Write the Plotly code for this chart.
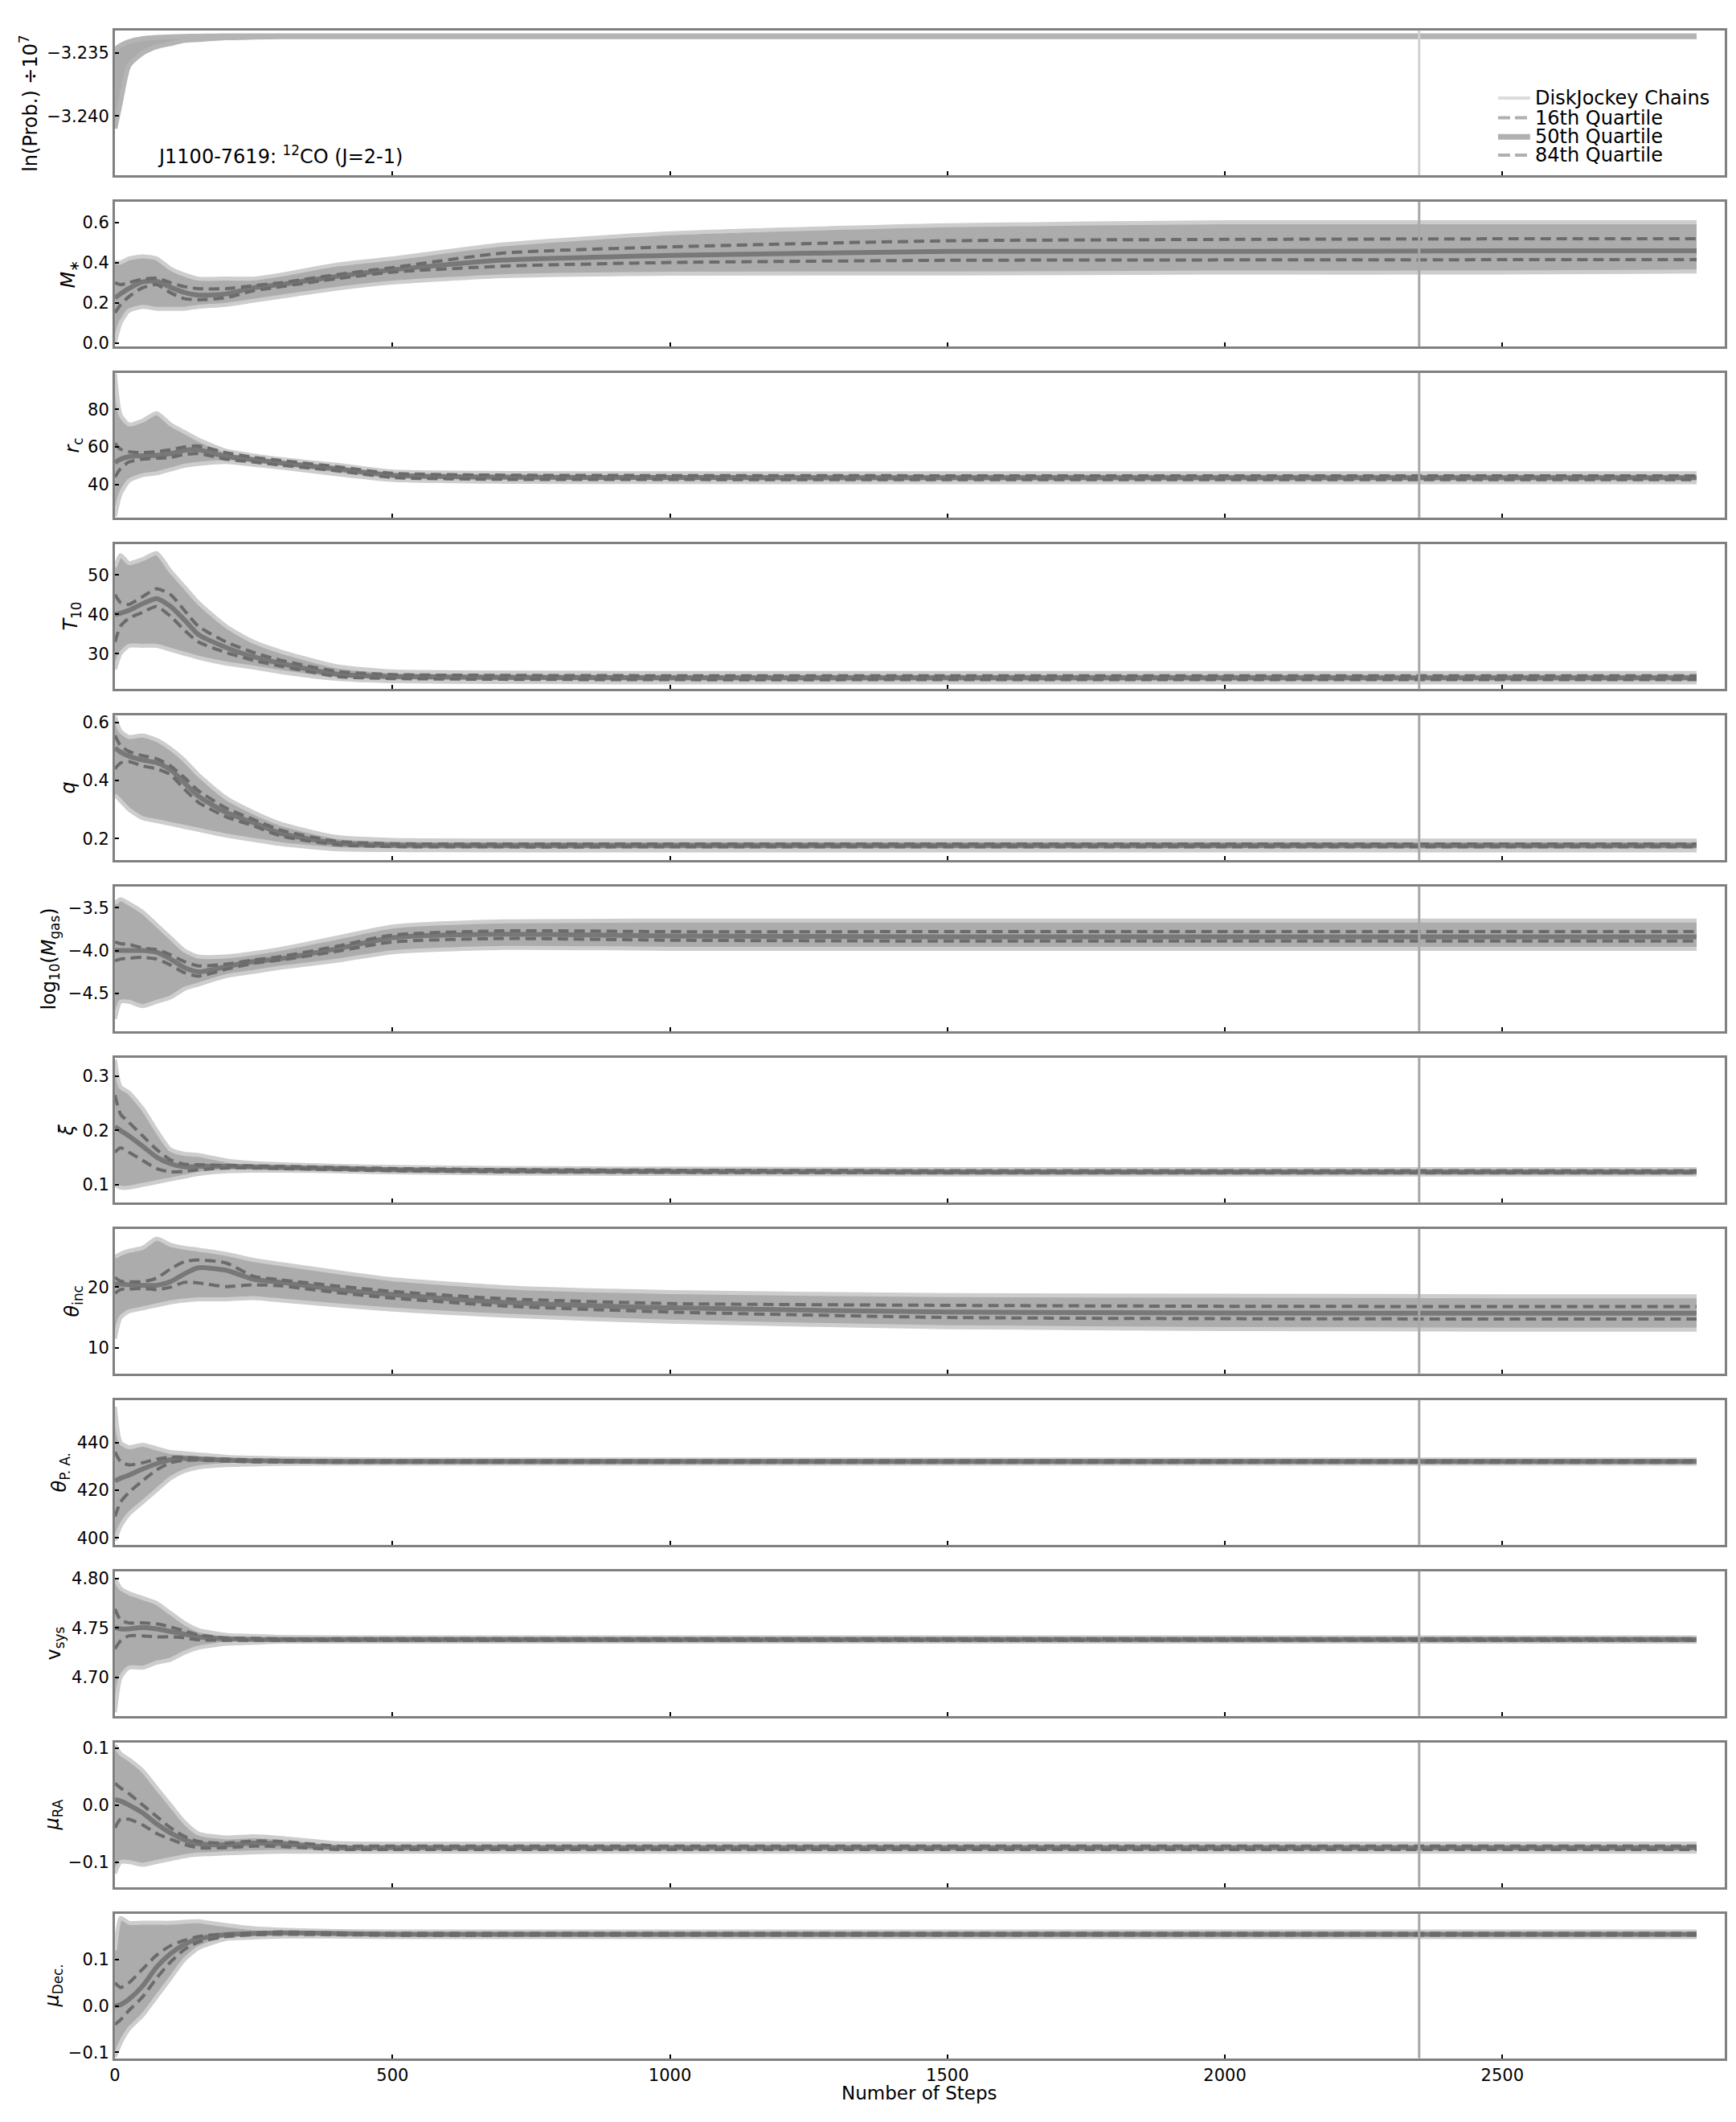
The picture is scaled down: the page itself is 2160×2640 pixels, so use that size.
import plotly.graph_objects as go

W, H = 2160, 2640
FONT = "DejaVu Sans"

# ---------------- data ----------------
STEPS = [0, 10, 25, 50, 75, 100, 125, 150, 200, 250, 300, 400, 500, 700, 1000, 1500, 2000, 2500, 2850]
X_TICKS = [0, 500, 1000, 1500, 2000, 2500]
BURN_STEP = 2350

# ln(Prob.)/1e7 : chain envelope only
lnp_hi = [-3.2347, -3.2344, -3.2341, -3.23385, -3.23375, -3.2337, -3.23367, -3.23365, -3.23363, -3.23362,
          -3.23362, -3.23362, -3.23362, -3.23362, -3.23362, -3.23362, -3.23362, -3.23362, -3.23362]
lnp_lo = [-3.2410, -3.2389, -3.2360, -3.2350, -3.2345, -3.23425, -3.2340, -3.23393, -3.23379, -3.23374,
          -3.2337, -3.2337, -3.2337, -3.2337, -3.2337, -3.2337, -3.2337, -3.2337, -3.2337]

mstar_hi = [0.40, 0.40, 0.42, 0.43, 0.42, 0.37, 0.34, 0.32, 0.32, 0.32, 0.34, 0.39, 0.42, 0.49, 0.545, 0.585, 0.60, 0.60, 0.60]
mstar_q84 = [0.30, 0.29, 0.30, 0.318, 0.322, 0.30, 0.28, 0.27, 0.27, 0.285, 0.30, 0.34, 0.375, 0.447, 0.478, 0.508, 0.515, 0.518, 0.518]
mstar_q50 = [0.224, 0.244, 0.271, 0.304, 0.307, 0.277, 0.251, 0.238, 0.244, 0.275, 0.291, 0.331, 0.364, 0.412, 0.435, 0.455, 0.455, 0.458, 0.458]
mstar_q16 = [0.15, 0.19, 0.23, 0.275, 0.29, 0.25, 0.22, 0.215, 0.225, 0.26, 0.28, 0.32, 0.352, 0.382, 0.40, 0.411, 0.413, 0.414, 0.414]
mstar_lo = [0.0, 0.10, 0.16, 0.18, 0.17, 0.17, 0.17, 0.18, 0.19, 0.21, 0.23, 0.27, 0.30, 0.332, 0.344, 0.345, 0.35, 0.35, 0.355]

rc_hi = [99.0, 77.0, 72.0, 74.0, 78.0, 72.0, 68.0, 64.0, 58.0, 55.5, 53.5, 50.5, 47.0, 46.2, 46.0, 46.0, 46.0, 46.0, 46.0]
rc_q84 = [62.0, 58.8, 57.5, 57.0, 57.5, 58.5, 60.0, 60.5, 57.0, 54.5, 52.8, 49.5, 46.0, 45.0, 44.8, 44.7, 44.7, 44.7, 44.7]
rc_q50 = [51.7, 53.5, 54.8, 55.3, 55.5, 56.5, 58.2, 58.5, 55.0, 53.3, 51.5, 48.4, 45.0, 44.0, 43.8, 43.7, 43.7, 43.7, 43.7]
rc_q16 = [44.0, 48.5, 52.0, 53.5, 54.0, 54.5, 56.0, 56.5, 53.5, 52.0, 50.3, 47.3, 43.8, 42.8, 42.7, 42.6, 42.6, 42.6, 42.6]
rc_lo = [23.0, 35.0, 42.0, 45.0, 46.0, 48.0, 50.0, 51.0, 52.0, 50.5, 49.0, 45.5, 42.5, 41.5, 41.3, 41.2, 41.2, 41.2, 41.2]

t10_hi = [52.0, 55.0, 53.0, 54.0, 55.5, 51.0, 47.0, 43.0, 37.0, 33.0, 30.5, 26.8, 25.5, 25.2, 25.1, 25.1, 25.1, 25.1, 25.1]
t10_q84 = [45.0, 43.0, 42.5, 44.5, 46.5, 45.0, 41.0, 37.0, 33.0, 30.3, 28.3, 25.5, 24.7, 24.5, 24.4, 24.4, 24.4, 24.4, 24.4]
t10_q50 = [40.0, 40.3, 41.0, 42.7, 44.0, 42.0, 38.6, 34.9, 31.6, 29.2, 27.5, 24.8, 24.2, 24.0, 23.9, 23.9, 23.9, 23.9, 23.9]
t10_q16 = [33.0, 37.0, 39.0, 40.5, 42.0, 39.5, 36.0, 33.0, 30.3, 28.3, 26.8, 24.2, 23.7, 23.5, 23.4, 23.4, 23.4, 23.4, 23.4]
t10_lo = [26.0, 30.0, 32.0, 32.0, 32.0, 31.0, 30.0, 29.0, 27.5, 26.5, 25.3, 23.6, 23.0, 22.8, 22.7, 22.7, 22.7, 22.7, 22.7]

q_hi = [0.62, 0.57, 0.55, 0.555, 0.54, 0.51, 0.47, 0.42, 0.34, 0.29, 0.25, 0.205, 0.195, 0.193, 0.193, 0.193, 0.193, 0.193, 0.193]
q_q84 = [0.555, 0.52, 0.50, 0.485, 0.475, 0.45, 0.41, 0.365, 0.305, 0.265, 0.228, 0.19, 0.182, 0.181, 0.181, 0.181, 0.181, 0.181, 0.181]
q_q50 = [0.512, 0.498, 0.484, 0.47, 0.461, 0.438, 0.392, 0.346, 0.29, 0.254, 0.217, 0.184, 0.177, 0.176, 0.176, 0.176, 0.176, 0.176, 0.176]
q_q16 = [0.44, 0.46, 0.465, 0.45, 0.44, 0.42, 0.37, 0.325, 0.275, 0.243, 0.208, 0.178, 0.172, 0.171, 0.171, 0.171, 0.171, 0.171, 0.171]
q_lo = [0.35, 0.33, 0.30, 0.27, 0.26, 0.25, 0.24, 0.23, 0.21, 0.195, 0.18, 0.163, 0.16, 0.159, 0.159, 0.159, 0.159, 0.159, 0.159]

mgas_hi = [-3.45, -3.4, -3.45, -3.55, -3.7, -3.85, -4.0, -4.07, -4.07, -4.03, -3.98, -3.85, -3.72, -3.66, -3.65, -3.65, -3.65, -3.65, -3.65]
mgas_q84 = [-3.9, -3.92, -3.93, -3.97, -3.99, -4.05, -4.13, -4.18, -4.16, -4.11, -4.07, -3.95, -3.82, -3.77, -3.78, -3.78, -3.78, -3.78, -3.78]
mgas_q50 = [-4.0, -4.0, -4.0, -4.0, -4.02, -4.10, -4.2, -4.25, -4.19, -4.13, -4.095, -3.98, -3.85, -3.81, -3.83, -3.84, -3.84, -3.84, -3.84]
mgas_q16 = [-4.12, -4.1, -4.09, -4.08, -4.1, -4.17, -4.26, -4.3, -4.22, -4.15, -4.11, -4.01, -3.9, -3.86, -3.88, -3.89, -3.89, -3.89, -3.89]
mgas_lo = [-4.8, -4.6, -4.6, -4.65, -4.6, -4.55, -4.45, -4.4, -4.3, -4.25, -4.2, -4.12, -4.02, -3.97, -3.98, -3.98, -3.98, -3.98, -3.98]

xi_hi = [0.33, 0.28, 0.27, 0.24, 0.2, 0.165, 0.157, 0.155, 0.145, 0.14, 0.138, 0.135, 0.133, 0.131, 0.13, 0.129, 0.129, 0.129, 0.129]
xi_q84 = [0.265, 0.23, 0.215, 0.19, 0.165, 0.146, 0.138, 0.137, 0.136, 0.135, 0.134, 0.132, 0.130, 0.128, 0.127, 0.126, 0.126, 0.126, 0.126]
xi_q50 = [0.207, 0.2, 0.19, 0.171, 0.151, 0.139, 0.133, 0.134, 0.134, 0.133, 0.132, 0.130, 0.128, 0.126, 0.125, 0.124, 0.124, 0.124, 0.124]
xi_q16 = [0.16, 0.168, 0.16, 0.145, 0.13, 0.124, 0.125, 0.128, 0.131, 0.131, 0.130, 0.128, 0.126, 0.124, 0.123, 0.122, 0.122, 0.122, 0.122]
xi_lo = [0.1, 0.095, 0.095, 0.1, 0.105, 0.11, 0.115, 0.12, 0.125, 0.126, 0.126, 0.125, 0.123, 0.121, 0.12, 0.119, 0.119, 0.119, 0.119]

inc_hi = [25.0, 25.5, 26.0, 26.5, 28.0, 27.0, 26.5, 26.2, 25.5, 24.5, 23.8, 22.5, 21.3, 20.0, 19.2, 18.7, 18.6, 18.5, 18.5]
inc_q84 = [21.6, 21.0, 20.9, 20.9, 21.5, 23.0, 24.2, 24.5, 24.0, 21.8, 21.2, 20.2, 19.3, 18.1, 17.3, 17.0, 16.85, 16.8, 16.8]
inc_q50 = [20.5, 20.5, 20.4, 20.3, 20.3, 20.9, 22.2, 23.2, 22.8, 21.3, 20.8, 19.6, 18.8, 17.5, 16.6, 15.9, 15.75, 15.7, 15.7]
inc_q16 = [19.0, 19.6, 19.7, 19.8, 19.6, 20.0, 20.8, 20.7, 20.1, 20.4, 20.2, 19.1, 18.2, 16.9, 15.9, 15.0, 14.8, 14.75, 14.75]
inc_lo = [11.5, 15.0, 16.0, 16.5, 17.0, 17.5, 17.8, 18.0, 18.0, 18.2, 17.8, 17.0, 16.3, 15.3, 14.3, 13.4, 13.1, 13.0, 13.0]

pa_hi = [455.0, 440.0, 438.0, 439.0, 437.5, 436.0, 435.5, 435.0, 434.0, 433.6, 433.3, 433.0, 432.9, 432.9, 432.9, 432.9, 432.9, 432.9, 432.9]
pa_q84 = [436.0, 432.0, 430.6, 431.5, 433.0, 433.8, 433.8, 433.5, 433.0, 432.7, 432.5, 432.3, 432.3, 432.3, 432.3, 432.3, 432.3, 432.3, 432.3]
pa_q50 = [423.9, 425.0, 426.3, 428.9, 431.1, 432.8, 433.3, 433.1, 432.6, 432.3, 432.2, 432.0, 432.0, 432.0, 432.0, 432.0, 432.0, 432.0, 432.0]
pa_q16 = [409.0, 415.0, 419.0, 424.0, 428.5, 431.5, 432.5, 432.6, 432.2, 431.9, 431.8, 431.7, 431.7, 431.7, 431.7, 431.7, 431.7, 431.7, 431.7]
pa_lo = [399.0, 405.0, 410.0, 415.0, 420.0, 425.0, 428.0, 429.5, 430.5, 430.8, 431.0, 431.1, 431.1, 431.1, 431.1, 431.1, 431.1, 431.1, 431.1]

vsys_hi = [4.80, 4.79, 4.785, 4.78, 4.775, 4.765, 4.755, 4.748, 4.743, 4.742, 4.741, 4.7405, 4.7405, 4.7405, 4.7405, 4.7405, 4.7405, 4.7405, 4.7405]
vsys_q84 = [4.769, 4.758, 4.755, 4.755, 4.754, 4.751, 4.747, 4.743, 4.740, 4.7395, 4.739, 4.739, 4.739, 4.739, 4.739, 4.739, 4.739, 4.739, 4.739]
vsys_q50 = [4.7504, 4.749, 4.749, 4.7504, 4.749, 4.7464, 4.7437, 4.741, 4.7391, 4.7385, 4.7383, 4.7383, 4.7383, 4.7383, 4.7383, 4.7383, 4.7383, 4.7383, 4.7383]
vsys_q16 = [4.729, 4.737, 4.742, 4.742, 4.741, 4.741, 4.740, 4.738, 4.7375, 4.7375, 4.7375, 4.7375, 4.7375, 4.7375, 4.7375, 4.7375, 4.7375, 4.7375, 4.7375]
vsys_lo = [4.665, 4.70, 4.71, 4.71, 4.715, 4.718, 4.725, 4.73, 4.734, 4.735, 4.736, 4.736, 4.736, 4.736, 4.736, 4.736, 4.736, 4.736, 4.736]

mura_hi = [0.105, 0.09, 0.08, 0.06, 0.03, 0.0, -0.03, -0.05, -0.057, -0.055, -0.058, -0.067, -0.068, -0.068, -0.068, -0.068, -0.068, -0.068, -0.068]
mura_q84 = [0.038, 0.03, 0.02, 0.0, -0.02, -0.04, -0.055, -0.064, -0.067, -0.063, -0.064, -0.072, -0.072, -0.072, -0.072, -0.072, -0.072, -0.072, -0.072]
mura_q50 = [0.0094, 0.007, 0.0, -0.014, -0.033, -0.049, -0.061, -0.068, -0.070, -0.067, -0.068, -0.075, -0.075, -0.075, -0.075, -0.075, -0.075, -0.075, -0.075]
mura_q16 = [-0.04, -0.025, -0.025, -0.035, -0.05, -0.06, -0.069, -0.075, -0.075, -0.072, -0.073, -0.078, -0.078, -0.078, -0.078, -0.078, -0.078, -0.078, -0.078]
mura_lo = [-0.12, -0.10, -0.10, -0.105, -0.1, -0.095, -0.09, -0.087, -0.085, -0.083, -0.082, -0.082, -0.082, -0.082, -0.082, -0.082, -0.082, -0.082, -0.082]

mudec_hi = [0.12, 0.19, 0.18, 0.18, 0.18, 0.18, 0.182, 0.183, 0.175, 0.168, 0.165, 0.162, 0.161, 0.161, 0.161, 0.161, 0.161, 0.161, 0.161]
mudec_q84 = [0.05, 0.04, 0.05, 0.08, 0.11, 0.13, 0.142, 0.15, 0.156, 0.158, 0.16, 0.158, 0.157, 0.157, 0.157, 0.157, 0.157, 0.157, 0.157]
mudec_q50 = [0.0, 0.003, 0.0145, 0.0435, 0.084, 0.113, 0.133, 0.145, 0.154, 0.1565, 0.158, 0.1565, 0.155, 0.155, 0.155, 0.155, 0.155, 0.155, 0.155]
mudec_q16 = [-0.04, -0.03, -0.01, 0.02, 0.06, 0.095, 0.122, 0.138, 0.15, 0.154, 0.155, 0.154, 0.153, 0.153, 0.153, 0.153, 0.153, 0.153, 0.153]
mudec_lo = [-0.11, -0.08, -0.05, -0.02, 0.02, 0.06, 0.1, 0.125, 0.145, 0.148, 0.15, 0.15, 0.149, 0.149, 0.149, 0.149, 0.149, 0.149, 0.149]

Y_LABELS = [
    "ln(Prob.) ÷10<sup>7</sup>",
    "<i>M</i><sub>∗</sub>",
    "<i>r</i><sub>c</sub>",
    "<i>T</i><sub>10</sub>",
    "<i>q</i>",
    "log<sub>10</sub>(<i>M</i><sub>gas</sub>)",
    "<i>ξ</i>",
    "<i>θ</i><sub>inc</sub>",
    "<i>θ</i><sub>P. A.</sub>",
    "v<sub>sys</sub>",
    "<i>μ</i><sub>RA</sub>",
    "<i>μ</i><sub>Dec.</sub>",
]
Y_TICKS = [
    [-3.240, -3.235], [0.0, 0.2, 0.4, 0.6], [40, 60, 80], [30, 40, 50], [0.2, 0.4, 0.6],
    [-4.5, -4.0, -3.5], [0.1, 0.2, 0.3], [10, 20], [400, 420, 440], [4.70, 4.75, 4.80],
    [-0.1, 0.0, 0.1], [-0.1, 0.0, 0.1],
]
Y_FORMATS = [".3f", ".1f", "d", "d", ".1f", ".1f", ".1f", "d", "d", ".2f", ".1f", ".1f"]
Y_RANGES = [
    [-3.2447, -3.2332], [-0.017, 0.703], [22.5, 99.4], [21.1, 57.85], [0.126, 0.625],
    [-4.943, -3.25], [0.068, 0.334], [5.75, 29.65], [397.2, 457.8], [4.6614, 4.8072],
    [-0.144, 0.110], [-0.113, 0.200],
]

LEGEND_LABELS = ["DiskJockey Chains", "16th Quartile", "50th Quartile", "84th Quartile"]
TITLE_TEXT = "J1100-7619: <sup>12</sup>CO (J=2-1)"
X_LABEL = "Number of Steps"

# table built from the arrays above
SERIES = [
    (lnp_lo, lnp_hi, None, None, None),
    (mstar_lo, mstar_hi, mstar_q16, mstar_q50, mstar_q84),
    (rc_lo, rc_hi, rc_q16, rc_q50, rc_q84),
    (t10_lo, t10_hi, t10_q16, t10_q50, t10_q84),
    (q_lo, q_hi, q_q16, q_q50, q_q84),
    (mgas_lo, mgas_hi, mgas_q16, mgas_q50, mgas_q84),
    (xi_lo, xi_hi, xi_q16, xi_q50, xi_q84),
    (inc_lo, inc_hi, inc_q16, inc_q50, inc_q84),
    (pa_lo, pa_hi, pa_q16, pa_q50, pa_q84),
    (vsys_lo, vsys_hi, vsys_q16, vsys_q50, vsys_q84),
    (mura_lo, mura_hi, mura_q16, mura_q50, mura_q84),
    (mudec_lo, mudec_hi, mudec_q16, mudec_q50, mudec_q84),
]

# ---------------- layout geometry (pixels) ----------------
PLOT_L, PLOT_R = 136.5, 2145.5
TOP0, PITCH, PANEL_H = 33.0, 214.03, 181.0
TITLE_X = [29, 80, 85, 83, 78, 56, 76, 85, 69, 62, 60, 60]

BAND_FILL = "#acacac"
BAND_EDGE = "#cdcdcd"
MED_COLOR = "#787878"
DASH_COLOR = "#6b6b6b"
FRAME = "#808080"
TICK_SIZE = 21

fig = go.Figure()
layout = dict(
    width=W, height=H, margin=dict(l=0, r=0, t=0, b=0),
    paper_bgcolor="white", plot_bgcolor="white", showlegend=False,
    font=dict(family=FONT, size=TICK_SIZE, color="black"),
)
shapes, annotations = [], []

for i, (lo, hi, q16, q50, q84) in enumerate(SERIES):
    n = i + 1
    sfx = "" if n == 1 else str(n)
    xa, ya = "x" + sfx, "y" + sfx
    top = TOP0 + PITCH * i
    bot = top + PANEL_H
    first = (i == 0)
    edge_w = 6 if first else 5
    fill_c = "#ababab" if first else BAND_FILL
    edge_c = "#b4b4b4" if first else BAND_EDGE
    fig.add_trace(go.Scatter(x=STEPS, y=hi, xaxis=xa, yaxis=ya, mode="lines",
                             line=dict(color=edge_c, width=edge_w, shape="spline", smoothing=0.6),
                             hoverinfo="skip", name=LEGEND_LABELS[0]))
    fig.add_trace(go.Scatter(x=STEPS, y=lo, xaxis=xa, yaxis=ya, mode="lines", fill="tonexty",
                             fillcolor=fill_c,
                             line=dict(color=edge_c, width=edge_w, shape="spline", smoothing=0.6),
                             hoverinfo="skip", name=LEGEND_LABELS[0]))
    if q50 is not None:
        fig.add_trace(go.Scatter(x=STEPS, y=q50, xaxis=xa, yaxis=ya, mode="lines",
                                 line=dict(color=MED_COLOR, width=6, shape="spline", smoothing=0.6),
                                 name=LEGEND_LABELS[2]))
        for qq, nm in ((q16, LEGEND_LABELS[1]), (q84, LEGEND_LABELS[3])):
            fig.add_trace(go.Scatter(x=STEPS, y=qq, xaxis=xa, yaxis=ya, mode="lines",
                                     line=dict(color=DASH_COLOR, width=4, dash="13px,7px",
                                               shape="spline", smoothing=0.6),
                                     name=nm))
    axis_x = dict(
        domain=[PLOT_L / W, PLOT_R / W], range=[0, 2900], anchor=ya,
        tickvals=X_TICKS, tickformat="d", showticklabels=(n == 12),
        ticks="inside", ticklen=5, tickwidth=2, tickcolor="black",
        showline=True, linecolor=FRAME, linewidth=3, mirror=True,
        showgrid=False, zeroline=False, tickfont=dict(size=TICK_SIZE, family=FONT),
    )
    axis_y = dict(
        domain=[1 - bot / H, 1 - top / H], range=Y_RANGES[i], anchor=xa,
        tickvals=Y_TICKS[i], tickformat=Y_FORMATS[i],
        ticks="inside", ticklen=5, tickwidth=2, tickcolor="black",
        showline=True, linecolor=FRAME, linewidth=3, mirror=True,
        showgrid=False, zeroline=False, tickfont=dict(size=TICK_SIZE, family=FONT),
    )
    layout["xaxis" + sfx] = axis_x
    layout["yaxis" + sfx] = axis_y

    shapes.append(dict(type="line", xref=xa, yref=ya + " domain", x0=BURN_STEP, x1=BURN_STEP,
                       y0=0, y1=1, line=dict(color="#d0d0d0" if first else "#a8a8a8", width=3),
                       layer="above"))
    annotations.append(dict(text=Y_LABELS[i], x=TITLE_X[i] / W, y=1 - (top + bot) / 2 / H,
                            xref="paper", yref="paper", textangle=-90, showarrow=False,
                            xanchor="center", yanchor="middle", font=dict(size=24, family=FONT)))

# panel 1 label
annotations.append(dict(text=TITLE_TEXT, x=188 / W, y=1 - 189 / H, xref="paper", yref="paper",
                        showarrow=False, xanchor="left", yanchor="middle",
                        font=dict(size=24, family=FONT)))
# x axis label
annotations.append(dict(text=X_LABEL, x=(PLOT_L + PLOT_R) / 2 / W, y=1 - 2612 / H,
                        xref="paper", yref="paper", showarrow=False, xanchor="center",
                        yanchor="middle", font=dict(size=23, family=FONT)))

# legend (drawn manually to match compact spacing)
LEG_ROWS = [117.7, 142.3, 166.0, 189.0]
LEG_STYLE = [
    dict(color="#dcdcdc", width=4),
    dict(color="#b0b0b0", width=4, dash="15px,6px"),
    dict(color="#b0b0b0", width=7),
    dict(color="#b0b0b0", width=4, dash="15px,6px"),
]
for yrow, lab, sty in zip(LEG_ROWS, LEGEND_LABELS, LEG_STYLE):
    shapes.append(dict(type="line", xref="paper", yref="paper", x0=1863 / W, x1=1903 / W,
                       y0=1 - yrow / H, y1=1 - yrow / H, line=sty, layer="above"))
    annotations.append(dict(text=lab, x=1907 / W, y=1 - yrow / H, xref="paper", yref="paper",
                            showarrow=False, xanchor="left", yanchor="middle",
                            font=dict(size=24, family=FONT)))

layout["shapes"] = shapes
layout["annotations"] = annotations
fig.update_layout(**layout)
fig.write_html("out.html", config={"displayModeBar": False},
               post_script="document.body.style.margin='0px';document.body.style.padding='0px';")
